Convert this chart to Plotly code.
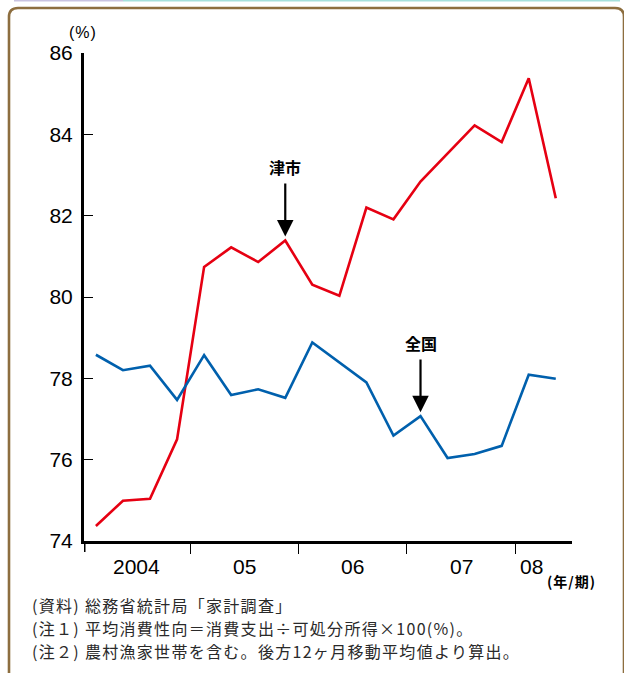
import plotly.graph_objects as go

# Quarterly series, 2004 Q1 - 2008 Q2 (average propensity to consume, %)
quarters = ["2004-1", "2004-2", "2004-3", "2004-4",
            "2005-1", "2005-2", "2005-3", "2005-4",
            "2006-1", "2006-2", "2006-3", "2006-4",
            "2007-1", "2007-2", "2007-3", "2007-4",
            "2008-1", "2008-2"]
tsu_city = [74.37, 74.99, 75.04, 76.50, 80.74, 81.22, 80.86, 81.39, 80.30,
            80.03, 82.20, 81.91, 82.84, 83.53, 84.22, 83.81, 85.38, 82.43]
nationwide = [78.58, 78.20, 78.31, 77.47, 78.57, 77.59, 77.73, 77.52, 78.88,
              78.39, 77.90, 76.59, 77.07, 76.04, 76.14, 76.34, 78.09, 77.99]
year_labels = ["2004", "05", "06", "07", "08"]
y_ticks = [74, 76, 78, 80, 82, 84, 86]
notes = ["(資料) 総務省統計局「家計調査」",
         "(注１) 平均消費性向＝消費支出÷可処分所得×100(%)。",
         "(注２) 農村漁家世帯を含む。後方12ヶ月移動平均値より算出。"]

W, H = 624, 673
ML, MR, MT, MB = 84, 52, 53, 132
PW, PH = W - ML - MR, H - MT - MB

X_RANGE = [-0.44, 17.6]
Y_RANGE = [74, 86]

def px_x(p):
    return (p - ML) / PW

def px_y(p):
    return (H - MB - p) / PH

xs = list(range(len(quarters)))
years = sorted({q.split("-")[0] for q in quarters})
# year boundaries between the last quarter of one year and the first of the next
boundaries = [i - 0.5 for i in xs[1:] if quarters[i].split("-")[0] != quarters[i - 1].split("-")[0]]

JP = "Noto Sans CJK JP"
NUM = "Liberation Sans"

fig = go.Figure()
fig.add_trace(go.Scatter(x=xs, y=tsu_city, mode="lines", name="津市",
                         line=dict(color="#e60012", width=2.6), hoverinfo="skip"))
fig.add_trace(go.Scatter(x=xs, y=nationwide, mode="lines", name="全国",
                         line=dict(color="#0060ad", width=2.6), hoverinfo="skip"))

fig.update_layout(
    width=W, height=H,
    margin=dict(l=ML, r=MR, t=MT, b=MB),
    paper_bgcolor="white", plot_bgcolor="white",
    showlegend=False,
    xaxis=dict(range=X_RANGE, showgrid=False, zeroline=False,
               showline=True, linecolor="black", linewidth=3,
               tickvals=boundaries, ticks="outside", ticklen=10, tickwidth=1.3,
               tickcolor="black", showticklabels=False),
    yaxis=dict(range=Y_RANGE, showgrid=False, zeroline=False,
               showline=True, linecolor="black", linewidth=3,
               tickvals=y_ticks, ticks="inside", ticklen=9, tickwidth=1.3,
               tickcolor="black", ticklabelstandoff=4,
               tickfont=dict(family=NUM, size=21, color="black")),
)

annotations = []
# year labels below the x axis
year_pos = []
for y in years:
    idx = [i for i, q in enumerate(quarters) if q.startswith(y)]
    year_pos.append(sum(idx) / len(idx) if len(idx) == 4 else idx[0] + 0.1)
for lbl, xp in zip(year_labels, year_pos):
    annotations.append(dict(x=xp, y=px_y(566), xref="x", yref="paper", text=lbl,
                            showarrow=False, xanchor="center", yanchor="middle",
                            font=dict(family=NUM, size=21, color="black")))
annotations.append(dict(x=px_x(571), y=px_y(581), xref="paper", yref="paper",
                        text='<span style="letter-spacing:1px">(年/期)</span>',
                        showarrow=False, xanchor="center", yanchor="middle",
                        font=dict(family=JP, size=14, color="black", weight="bold")))
annotations.append(dict(x=px_x(83), y=px_y(32), xref="paper", yref="paper",
                        text='<span style="letter-spacing:1px">(%)</span>',
                        showarrow=False, xanchor="center", yanchor="middle",
                        font=dict(family=NUM, size=16, color="black")))

# series callouts with arrows
for name, series, idx, label_y, tail_y in [("津市", tsu_city, 7, 167, 178),
                                           ("全国", nationwide, 12, 343, 354)]:
    annotations.append(dict(x=idx, y=px_y(label_y), xref="x", yref="paper", text=name,
                            showarrow=False, xanchor="center", yanchor="middle",
                            font=dict(family=JP, size=16, color="black", weight="bold")))
    tip_px = (H - MB) - (series[idx] - Y_RANGE[0]) / (Y_RANGE[1] - Y_RANGE[0]) * PH
    annotations.append(dict(x=idx, y=series[idx], xref="x", yref="y", text="",
                            showarrow=True, arrowhead=2, arrowsize=1.5, arrowwidth=2.2,
                            arrowcolor="black", ax=0, ay=-(tip_px - tail_y - 4),
                            standoff=4))

# footnotes (slightly tracked out)
for i, t in enumerate(notes):
    annotations.append(dict(x=px_x(30), y=px_y(605 + 23 * i), xref="paper", yref="paper",
                            text=f'<span style="letter-spacing:1.3px">{t}</span>',
                            showarrow=False, xanchor="left", yanchor="middle",
                            font=dict(family=JP, size=16, color="#2a2a2a")))
fig.update_layout(annotations=annotations)

shapes = []
# y axis line continues a little below the x axis
shapes.append(dict(type="line", xref="x", yref="paper", x0=X_RANGE[0], x1=X_RANGE[0],
                   y0=px_y(552), y1=0, line=dict(color="black", width=3)))

# rounded frame
l, t, r, b, rad = 9, 8, 624, 673, 9
def P(px, py):
    return f"{px_x(px):.5f},{px_y(py):.5f}"
frame = (f"M {P(l, b)} L {P(l, t + rad)} Q {P(l, t)} {P(l + rad, t)} "
         f"L {P(r - rad, t)} Q {P(r, t)} {P(r, t + rad)} L {P(r, b)}")
shapes.append(dict(type="path", xref="paper", yref="paper", path=frame,
                   line=dict(color="#8d6e3f", width=2.6)))
# thin coloured rule along the top edge
shapes.append(dict(type="line", xref="paper", yref="paper", x0=px_x(14), x1=px_x(123),
                   y0=px_y(0.7), y1=px_y(0.7), line=dict(color="#c9c3e0", width=1.6)))
shapes.append(dict(type="line", xref="paper", yref="paper", x0=px_x(123), x1=px_x(620),
                   y0=px_y(0.7), y1=px_y(0.7), line=dict(color="#a6e0dc", width=1.6)))
fig.update_layout(shapes=shapes)

fig.write_html("out.html")
